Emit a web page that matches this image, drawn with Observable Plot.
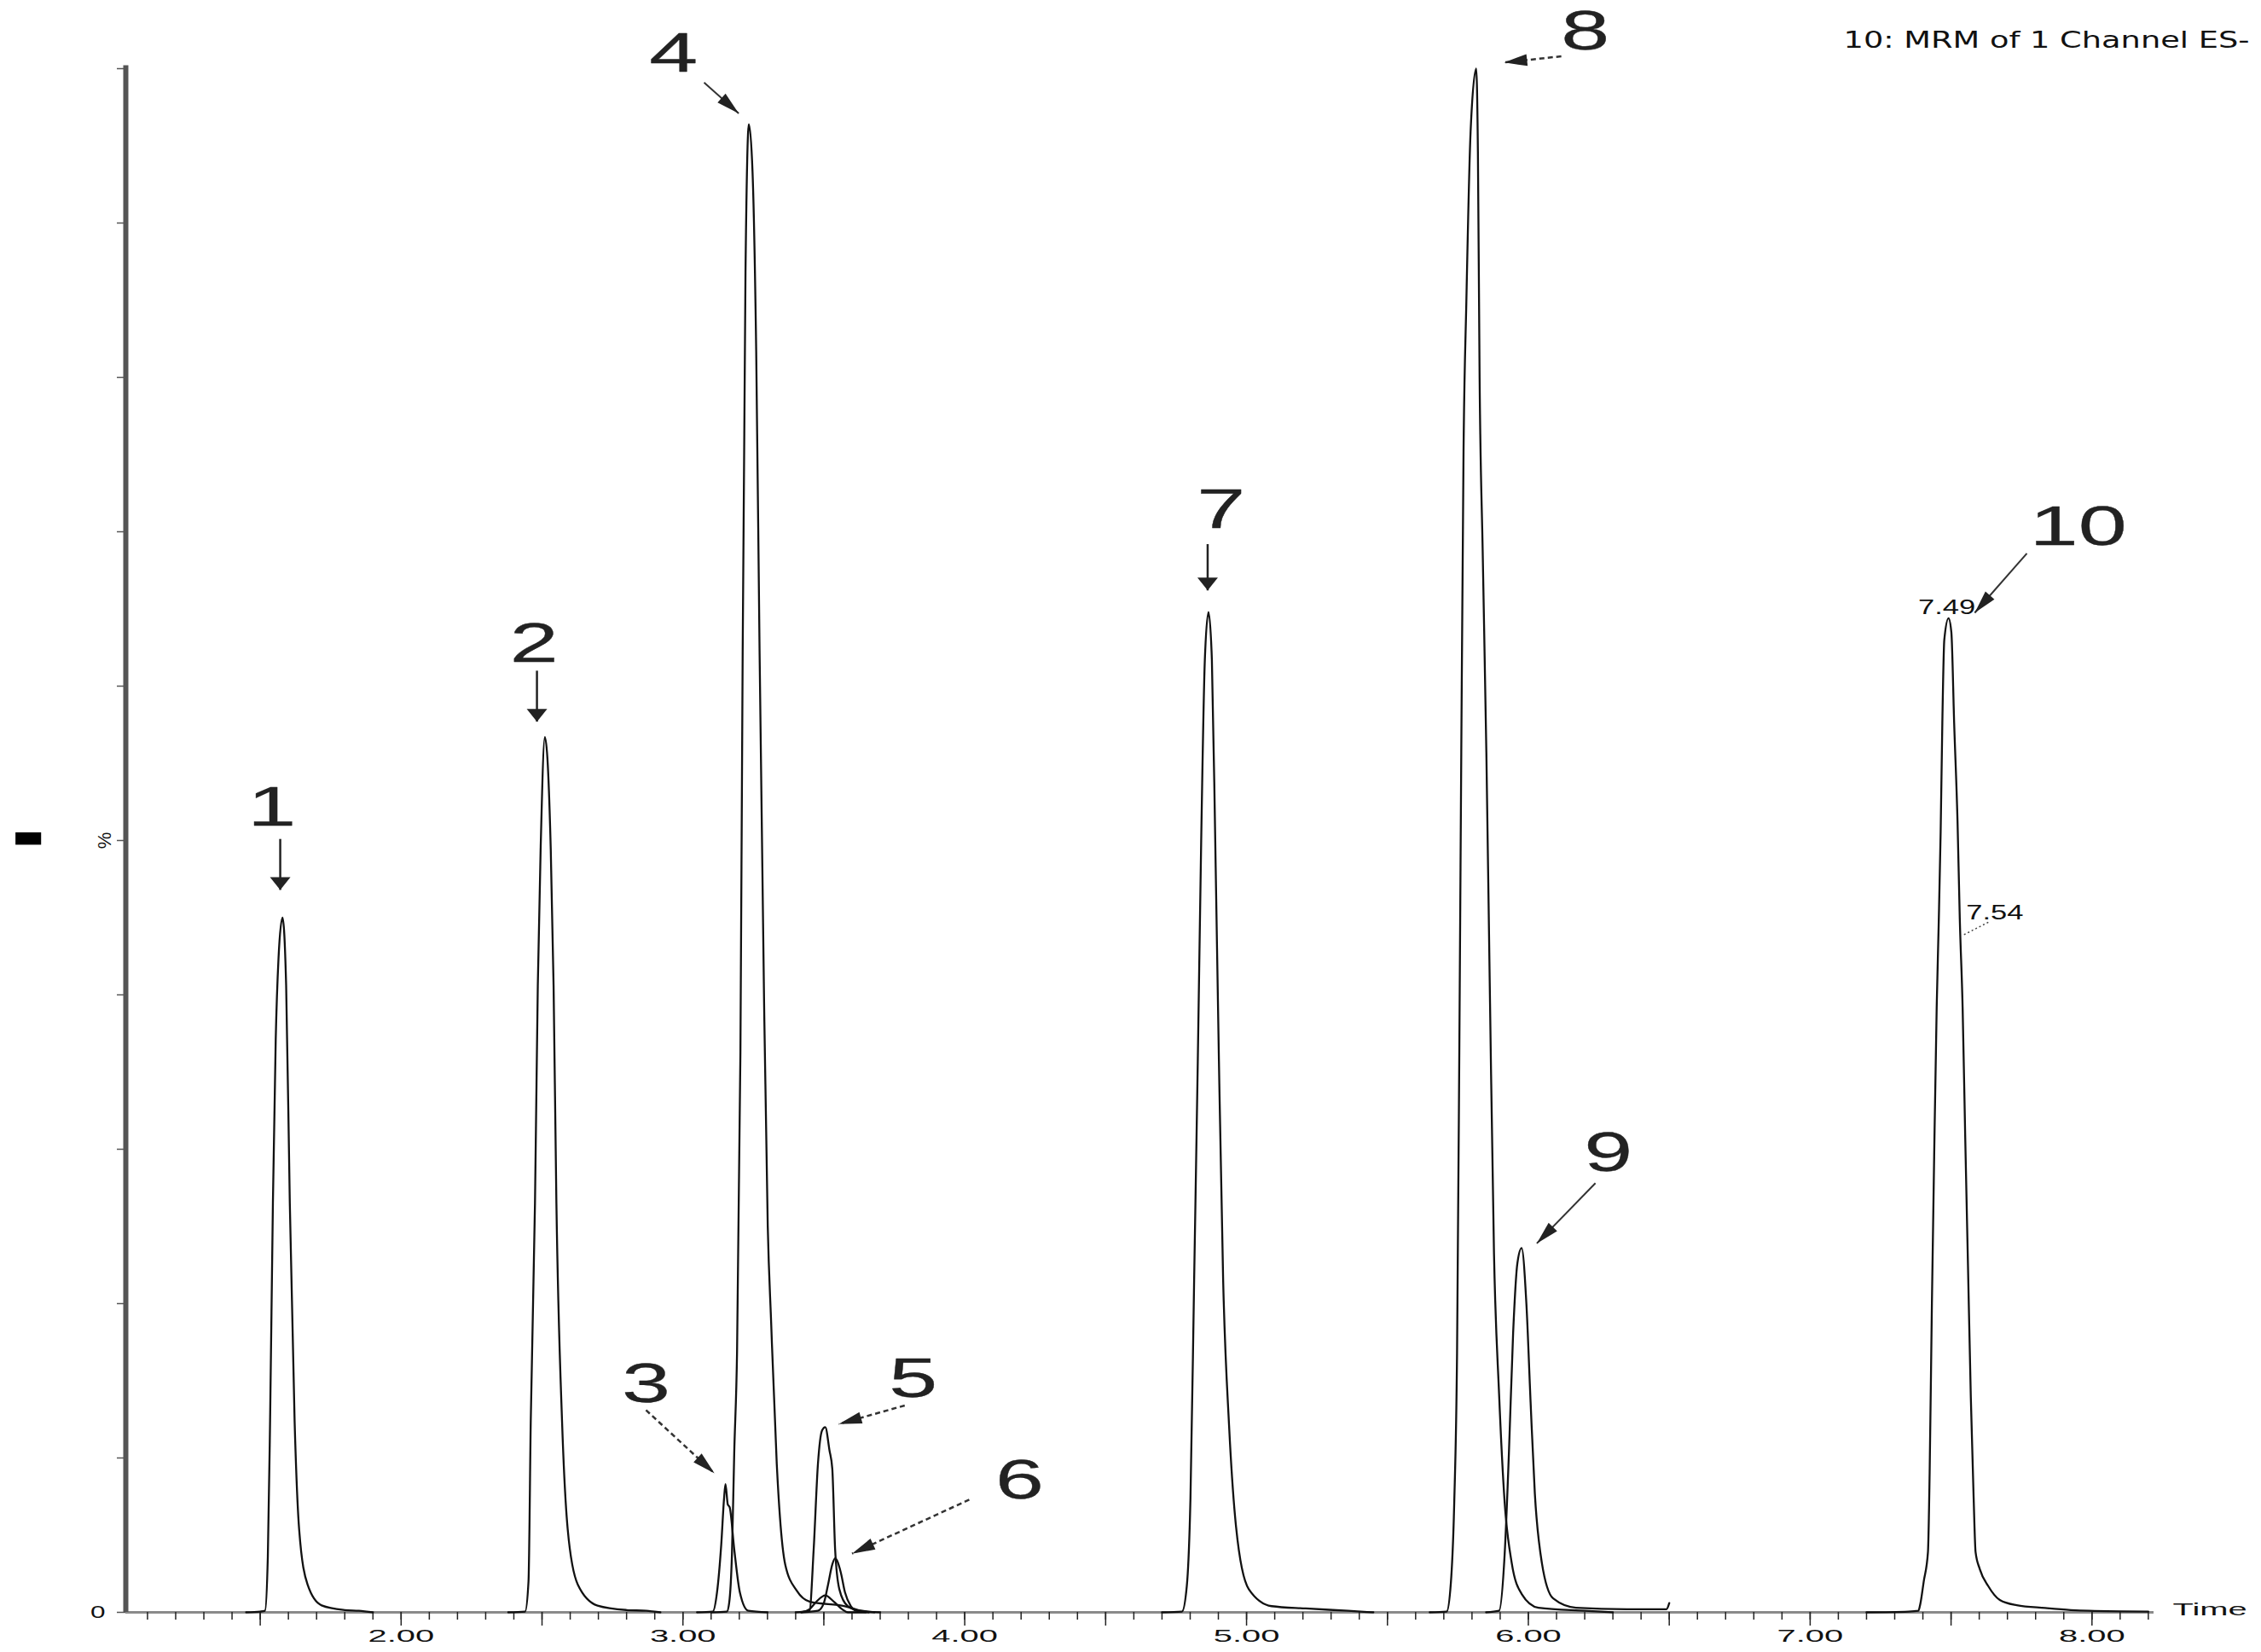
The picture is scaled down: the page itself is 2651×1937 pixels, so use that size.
<!DOCTYPE html>
<html><head><meta charset="utf-8">
<script src="https://cdn.jsdelivr.net/npm/d3@7"></script>
<script src="https://cdn.jsdelivr.net/npm/@observablehq/plot@0.6"></script>
<style>html,body{margin:0;padding:0;background:#fff;}#chart{position:absolute;left:0;top:0;}</style>
</head><body><div id="chart"></div>
<script>
// ---- Data: retention time (min) vs relative intensity (%) ----
const peak1 = [[1.45,0],[1.50,0.05],[1.517,0.1],[1.527,3.6],[1.535,12.4],[1.545,26.5],[1.555,37.1],[1.565,42.4],[1.579,45.0],[1.592,40.6],[1.605,26.5],[1.622,12.4],[1.638,5.4],[1.668,1.8],[1.718,0.45],[1.80,0.15],[1.85,0.1],[1.90,0]];
const peak2 = [[2.38,0],[2.44,0.05],[2.452,2],[2.46,12.4],[2.475,26.5],[2.485,40.6],[2.495,49.4],[2.51,56.7],[2.531,49.4],[2.541,40.6],[2.551,26.5],[2.571,12.4],[2.591,5.4],[2.627,1.8],[2.697,0.44],[2.80,0.15],[2.87,0.1],[2.92,0]];
const peak3 = [[3.05,0],[3.106,0.05],[3.121,1.3],[3.136,4.4],[3.146,7.4],[3.151,8.3],[3.159,7.0],[3.166,6.8],[3.182,4.1],[3.202,1.3],[3.232,0.1],[3.30,0]];
const peak4 = [[3.10,0],[3.156,0.05],[3.164,0.6],[3.174,3.8],[3.182,10.3],[3.192,16.8],[3.204,36.3],[3.212,62.2],[3.222,86.8],[3.234,96.4],[3.247,93.3],[3.26,81.7],[3.272,62.2],[3.288,39.5],[3.301,25],[3.313,18.8],[3.333,9.6],[3.363,3.1],[3.404,1.4],[3.449,0.7],[3.575,0.4],[3.636,0.1],[3.70,0]];
const peak5 = [[3.40,0],[3.449,0.1],[3.464,4.1],[3.479,9.6],[3.494,11.8],[3.505,12.0],[3.52,10.5],[3.53,9.3],[3.54,4.1],[3.555,1.5],[3.585,0.4],[3.626,0.1],[3.68,0]];
const peak6 = [[3.42,0],[3.479,0.1],[3.50,0.6],[3.515,1.8],[3.53,3.1],[3.54,3.5],[3.56,2.6],[3.575,1.3],[3.596,0.4],[3.616,0.1],[3.66,0]];
const peakMinor = [[3.42,0],[3.449,0.2],[3.474,0.7],[3.505,1.1],[3.535,0.7],[3.565,0.2],[3.585,0],[3.65,0]];
const peak7 = [[4.70,0],[4.771,0.05],[4.788,1.7],[4.801,7.4],[4.814,21.5],[4.827,35.7],[4.839,49.9],[4.852,61.7],[4.865,64.8],[4.877,61.7],[4.889,49.9],[4.902,35.7],[4.917,21.5],[4.938,12.1],[4.963,5.5],[5.008,1.5],[5.089,0.4],[5.21,0.25],[5.36,0.1],[5.45,0]];
const peak8 = [[5.65,0],[5.71,0.05],[5.725,1.9],[5.737,7.1],[5.747,16.8],[5.755,36.3],[5.762,55.7],[5.770,75.2],[5.78,84.9],[5.795,95.9],[5.815,100],[5.821,94.6],[5.827,80],[5.838,68.7],[5.851,55.7],[5.864,39.5],[5.878,23.3],[5.896,14.2],[5.916,7.1],[5.941,3.2],[5.976,1.2],[6.036,0.3],[6.20,0.1],[6.30,0]];
const peak9 = [[5.85,0],[5.896,0.1],[5.916,3.8],[5.931,10.3],[5.946,18.1],[5.961,22.6],[5.976,23.6],[5.993,20.0],[6.008,13.6],[6.023,7.7],[6.048,3.2],[6.088,0.9],[6.169,0.3],[6.35,0.2],[6.49,0.2],[6.50,0.6]];
const peak10 = [[7.20,0],[7.35,0.05],[7.384,0.1],[7.391,0.55],[7.403,2.0],[7.418,3.9],[7.424,9],[7.432,20],[7.44,29.5],[7.449,39.2],[7.456,44.5],[7.463,50.5],[7.469,57.6],[7.476,63.0],[7.491,64.4],[7.501,63.5],[7.511,57.6],[7.523,51.2],[7.531,44.9],[7.541,39.2],[7.55,31],[7.56,22.5],[7.57,14],[7.58,7.5],[7.587,3.9],[7.602,2.8],[7.632,1.7],[7.673,0.8],[7.733,0.46],[7.834,0.28],[7.925,0.15],[7.99,0.1],[8.20,0.05]];

const traceNames = ["1","2","3","4","5","6","5b","7","8","9","10"];
const traceData = [peak1,peak2,peak3,peak4,peak5,peak6,peakMinor,peak7,peak8,peak9,peak10];

// axis ticks
const xLabelValues = [2,3,4,5,6,7,8];
const xLabelText = ["2.00","3.00","4.00","5.00","6.00","7.00","8.00"];
const yTickValues = [0,10,20,30,40,50,60,70,80,90,100];

// peak numbers and their arrows (time, %)
const labelText = ["1","2","3","4","5","6","7","8","9","10"];
const labelTime = [1.541,2.472,2.869,2.967,3.817,4.195,4.910,6.202,6.284,7.951];
const labelPct  = [52.1,62.7,14.75,100.96,15.1,8.5,71.4,102.4,29.7,70.3];
const arrowT1 = [1.571,2.482,2.869,3.075,3.787,4.016,4.862,6.117,6.238,7.769];
const arrowP1 = [50.1,61.0,13.1,99.1,13.4,7.3,69.2,100.8,27.8,68.6];
const arrowT2 = [1.571,2.482,3.112,3.198,3.553,3.60,4.862,5.914,6.03,7.584];
const arrowP2 = [46.8,57.7,9.0,97.1,12.2,3.8,66.2,100.4,23.9,64.75];
const arrowKind = ["down","down","dash","thin","dash","dash","down","dash","thin","thin"];

// retention-time annotations on peak 10
const rtText = ["7.49","7.54"];
const rtTime = [7.485,7.655];
const rtPct  = [65.1,45.3];
const rtLeaderT = [7.546,7.637];
const rtLeaderP = [43.9,44.75];

const titleText = "10: MRM of 1 Channel ES-";

// ---- Layout ----
const W = 2651, H = 1937, mL = 147, mR = 126, mT = 80, mB = 47;
const xMin = 1.023, xMax = 8.22;
const kx = (W - mL - mR) / (xMax - xMin), ky = (H - mT - mB) / 100;

const rows = traceData.flatMap((pts, i) => pts.map(([t, v]) => ({trace: traceNames[i], t, v})));
const xMinor = d3.range(11, 83).map(d => d / 10);
const xMajor = d3.range(3, 17).map(d => d / 2);

const arrows = labelText.map((s, i) => ({
  label: s, t1: arrowT1[i], p1: arrowP1[i], t2: arrowT2[i], p2: arrowP2[i], kind: arrowKind[i],
  angle: Math.atan2((arrowT2[i] - arrowT1[i]) * kx, (arrowP2[i] - arrowP1[i]) * ky) * 180 / Math.PI
}));
const labels = labelText.map((s, i) => ({s, t: labelTime[i], p: labelPct[i]}));
const rts = rtText.map((s, i) => ({s, t: rtTime[i], p: rtPct[i]}));

const headLong = {draw(ctx) { ctx.moveTo(0, 0); ctx.lineTo(-7, 27); ctx.lineTo(7, 27); ctx.closePath(); }};
const headWide = {draw(ctx) { ctx.moveTo(0, 0); ctx.lineTo(-12, 15); ctx.lineTo(12, 15); ctx.closePath(); }};

const chart = Plot.plot({
  width: W, height: H,
  marginLeft: mL, marginRight: mR, marginTop: mT, marginBottom: mB,
  x: {domain: [xMin, xMax], label: null},
  y: {domain: [0, 100], label: null},
  style: {background: "white", fontFamily: "Liberation Sans", color: "#111"},
  marks: [
    Plot.ruleY([0], {x1: xMin, x2: xMax, stroke: "#8a8a8a", strokeWidth: 3}),
    Plot.axisX({ticks: xMinor, tickSize: 9, tickFormat: () => "", stroke: "#222", strokeWidth: 1.5}),
    Plot.axisX({ticks: xMajor, tickSize: 16, tickPadding: 4, fontSize: 21, stroke: "#222", strokeWidth: 1.5,
      tickFormat: d => { const i = xLabelValues.indexOf(d); return i >= 0 ? xLabelText[i] : ""; }}),
    Plot.axisY({ticks: yTickValues, tickSize: 10, tickPadding: 14, fontSize: 21, stroke: "#555", strokeWidth: 1.5,
      tickFormat: d => d === 0 ? "0" : ""}),
    Plot.ruleX([xMin], {y1: 0, y2: 100.2, stroke: "#555", strokeWidth: 6}),
    Plot.line(rows, {x: "t", y: "v", z: "trace", curve: "monotone-x", stroke: "#111", strokeWidth: 2.3}),
    // arrows
    Plot.link(arrows.filter(a => a.kind === "down"), {x1: "t1", y1: "p1", x2: "t2", y2: "p2", stroke: "#222", strokeWidth: 2.5}),
    Plot.link(arrows.filter(a => a.kind === "thin"), {x1: "t1", y1: "p1", x2: "t2", y2: "p2", stroke: "#333", strokeWidth: 2}),
    Plot.link(arrows.filter(a => a.kind === "dash"), {x1: "t1", y1: "p1", x2: "t2", y2: "p2", stroke: "#333", strokeWidth: 2.5, strokeDasharray: "6,4"}),
    Plot.dot(arrows.filter(a => a.kind === "down"), {x: "t2", y: "p2", rotate: "angle", symbol: headWide, fill: "#222", stroke: "none", r: 10}),
    Plot.dot(arrows.filter(a => a.kind !== "down"), {x: "t2", y: "p2", rotate: "angle", symbol: headLong, fill: "#222", stroke: "none", r: 10}),
    Plot.text(labels, {x: "t", y: "p", text: "s", fontSize: 64, fill: "#222", stroke: "#222", strokeWidth: 0.3, ariaDescription: "peak-labels"}),
    // retention time labels
    Plot.link([0], {x1: rtLeaderT[0], y1: rtLeaderP[0], x2: rtLeaderT[1], y2: rtLeaderP[1], stroke: "#444", strokeWidth: 1.5, strokeDasharray: "2,3"}),
    Plot.text(rts, {x: "t", y: "p", text: "s", fontSize: 23, fill: "#111", ariaDescription: "rt-labels"}),
    // title, axis texts
    Plot.text([titleText], {frameAnchor: "top-right", dx: 112, dy: -43, textAnchor: "end", fontSize: 26, fontFamily: "DejaVu Sans", fill: "#111", ariaDescription: "title"}),
    Plot.text(["Time"], {frameAnchor: "bottom-right", dx: 22, dy: 3, textAnchor: "start", fontSize: 21, fill: "#111", ariaDescription: "time-label"}),
    Plot.text(["%"], {x: 0.95, y: 50, rotate: -90, fontSize: 22, fill: "#111"}),
    Plot.rect([0], {x1: 0.633, x2: 0.724, y1: 49.7, y2: 50.5, fill: "#000"})
  ]
});

document.getElementById("chart").appendChild(chart);

function stretch(sel, factor, target) {
  chart.querySelectorAll(sel).forEach(t => {
    const L = t.getComputedTextLength();
    if (L > 0) {
      t.setAttribute("textLength", target ? target : L * factor);
      t.setAttribute("lengthAdjust", "spacingAndGlyphs");
    }
  });
}
stretch('g[aria-label="x-axis tick label"] text', 1.9);
stretch('g[aria-label="y-axis tick label"] text', 1.5);
stretch('g[aria-description="peak-labels"] text', 1.6);
stretch('g[aria-description="rt-labels"] text', 1.5);
stretch('g[aria-description="time-label"] text', 1.9);
stretch('g[aria-description="title"] text', 1, 476);
</script>
</body></html>
